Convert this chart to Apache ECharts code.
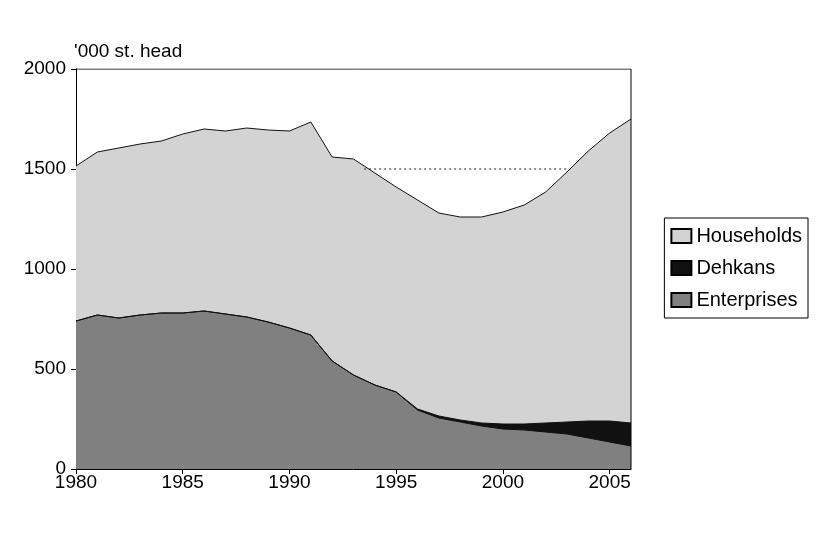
<!DOCTYPE html>
<html>
<head>
<meta charset="utf-8">
<script src="https://cdn.jsdelivr.net/npm/echarts@6/dist/echarts.min.js"></script>
<style>html,body{margin:0;background:#fff;}#main{width:820px;height:543px;}</style>
</head>
<body>
<div id="main"></div>
<script>
var years = [1980,1981,1982,1983,1984,1985,1986,1987,1988,1989,1990,1991,1992,1993,1994,1995,1996,1997,1998,1999,2000,2001,2002,2003,2004,2005,2006];
var total = [1515,1585,1605,1625,1640,1675,1700,1690,1705,1695,1690,1735,1560,1550,1480,1410,1345,1280,1260,1260,1285,1320,1385,1485,1590,1680,1750];
var enterprises = [740,770,755,770,780,780,790,775,760,735,705,670,540,470,420,385,295,255,235,215,200,195,185,175,155,135,115];
var dehkans = [0,0,0,0,0,0,0,0,0,0,0,0,0,0,0,0,5,10,10,15,25,30,45,60,85,105,115];
var refLine = [[1993.5,1500],[2003,1500]];

// cumulative tops of each layer
var entDehk = enterprises.map(function(e,i){ return e + dehkans[i]; });

function pairs(arr){ return years.map(function(y,i){ return [y, arr[i]]; }); }

var chart = echarts.init(document.getElementById('main'));
var font = 'Liberation Sans, Arial, sans-serif';
function area(name, data, color){
  return {
    name: name, type: 'line', data: pairs(data),
    symbol: 'none', areaStyle: {color: color, opacity: 1},
    lineStyle: {color: '#111', width: 1}, itemStyle: {color: color, borderColor:'#000', borderWidth:1}
  };
}
chart.setOption({
  animation: false,
  grid: {left: 76, right: 189, top: 69, bottom: 74},
  legend: {
    orient: 'vertical', right: 12, top: 218, itemWidth: 20, itemHeight: 14, itemGap: 12,
    icon: 'rect',
    borderColor: '#000', borderWidth: 1, padding: [8, 6], data: ['Households','Dehkans','Enterprises'],
    textStyle: {fontSize: 20, fontFamily: font, color: '#000'}
  },
  xAxis: {
    type: 'value', min: 1980, max: 2006, interval: 5,
    axisLine: {lineStyle: {color: '#000'}}, axisTick: {length: 5, lineStyle:{color:'#000'}},
    splitLine: {show: false},
    axisLabel: {fontSize: 19, fontFamily: font, color: '#000', margin: 4, showMaxLabel: false,
      formatter: function(v){ return String(v); }}
  },
  yAxis: {
    type: 'value', min: 0, max: 2000, interval: 500,
    name: "'000 st. head", nameLocation: 'end', nameGap: 8,
    nameTextStyle: {fontSize: 19, fontFamily: font, color: '#000', align: 'left', padding:[0,0,0,-2]},
    axisLine: {show: true, lineStyle: {color: '#000'}}, axisTick: {show: true, length: 5, lineStyle:{color:'#000'}},
    splitLine: {show: false},
    axisLabel: {fontSize: 19, fontFamily: font, color: '#000', margin: 10,
      formatter: function(v){ return String(v); }}
  },
  series: [
    area('Households', total, '#d3d3d3'),
    area('Dehkans', entDehk, '#111111'),
    area('Enterprises', enterprises, '#808080'),
    {type: 'line', data: refLine, symbol: 'none', silent: true,
     lineStyle: {color: '#222', width: 1.2, type: [2, 3]}},
    {type: 'line', data: [[2006,0],[2006,2000],[1980,2000]], symbol: 'none', silent: true,
     lineStyle: {color: '#000', width: 1}}
  ]
});
</script>
</body>
</html>
